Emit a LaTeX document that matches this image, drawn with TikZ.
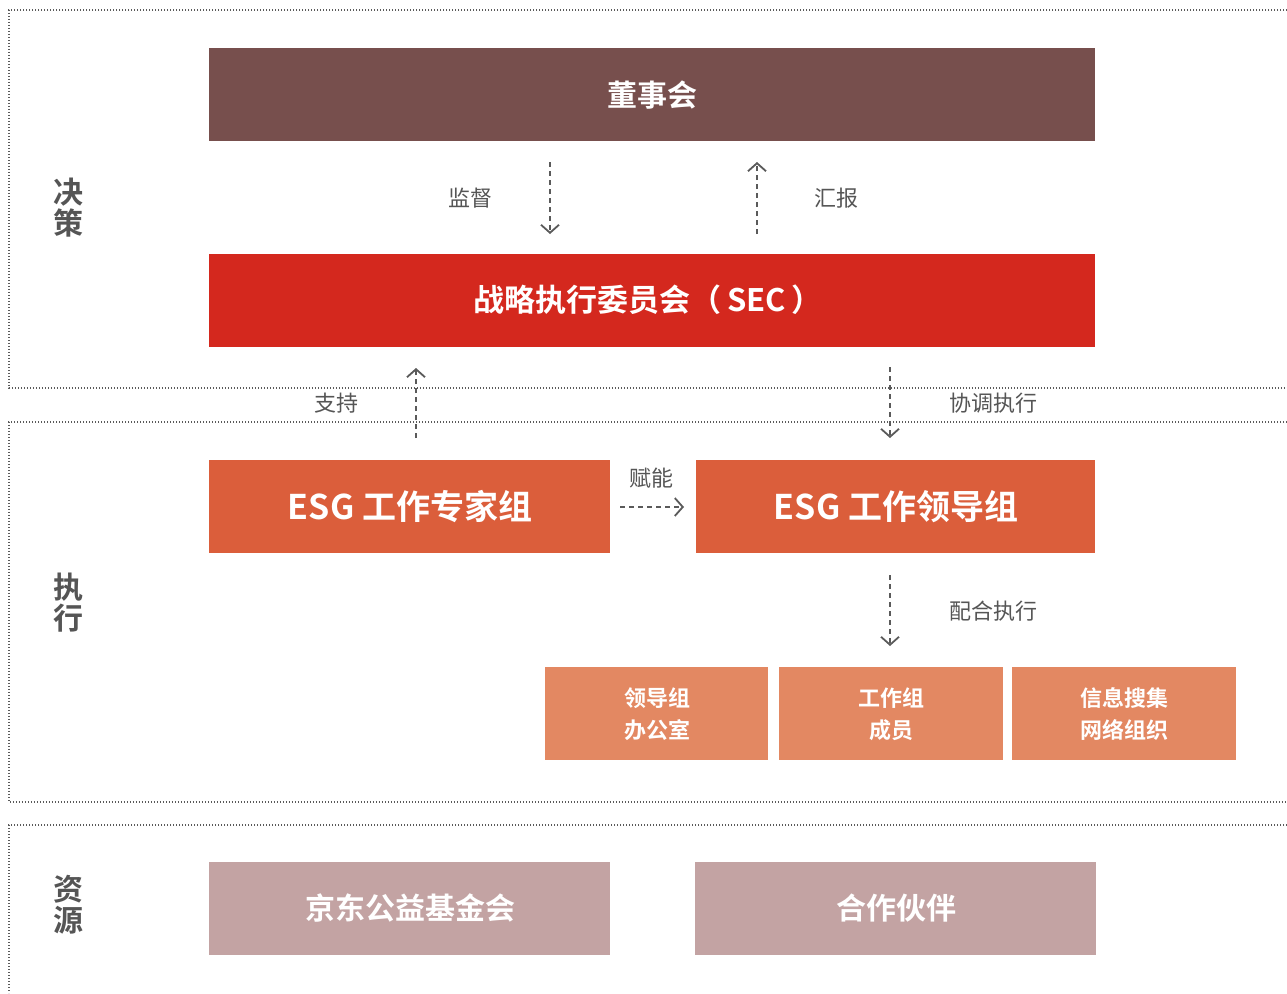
\documentclass[tikz,border=0pt]{standalone}
\usepackage{fontspec}
\setmainfont{Noto Sans CJK SC}
\newfontfamily\cjkb{Noto Sans CJK SC Bold}
\usetikzlibrary{arrows.meta}
\definecolor{cboard}{HTML}{774F4D}
\definecolor{csec}{HTML}{D4281E}
\definecolor{cesg}{HTML}{DB5E3B}
\definecolor{csmall}{HTML}{E38862}
\definecolor{cres}{HTML}{C3A3A3}
\definecolor{cgray}{HTML}{555555}
\definecolor{cline}{HTML}{5A5A5A}
\tikzset{
  x=1pt, y=-1pt,
  boxbig/.style={draw=none, inner sep=0pt, text=white, font=\cjkb\fontsize{30}{34}\selectfont},
  sectframe/.style={draw=cline, line width=1.3pt, dash pattern=on 1.3pt off 1.7pt},
  flow/.style={draw=cline, line width=1.8pt, dash pattern=on 5pt off 4pt, -{Straight Barb[length=8pt,width=18pt,line width=1.8pt]}},
  lbl/.style={text=cgray, font=\fontsize{22}{26}\selectfont, inner sep=0pt},
  side/.style={text=cgray, font=\cjkb\fontsize{30}{31}\selectfont, align=center, inner sep=0pt},
}
\begin{document}
\begin{tikzpicture}
\useasboundingbox (0,0) rectangle (1287,993);
% section frames
\draw[sectframe] (1287,10) -- (9,10) -- (9,388) -- (1287,388);
\draw[sectframe] (1287,422) -- (9,422) -- (9,802) -- (1287,802);
\draw[sectframe] (1287,825) -- (9,825) -- (9,993);
% side labels
\node[side] (sdec) at (68,208) {决\\策};
\node[side] (sexe) at (68,603) {执\\行};
\node[side] (sres) at (68,905) {资\\源};
% boxes
\fill[cboard] (209,48) rectangle (1095,141);
\node[boxbig] (board) at (652,95) {董事会};
\fill[csec] (209,254) rectangle (1095,347);
\node[boxbig, font=\cjkb\fontsize{31}{34}\selectfont] (sec) at (648,300) {战略执行委员会（\,SEC\,）};
\fill[cesg] (209,460) rectangle (610,553);
\node[boxbig, font=\cjkb\fontsize{34}{38}\selectfont] (exp) at (410,507) {ESG 工作专家组};
\fill[cesg] (696,460) rectangle (1095,553);
\node[boxbig, font=\cjkb\fontsize{34}{38}\selectfont] (lead) at (896,507) {ESG 工作领导组};
\fill[csmall] (545,667) rectangle (768,760);
\node[boxbig, font=\cjkb\fontsize{22}{32}\selectfont, align=center] (off) at (657,714) {领导组\\办公室};
\fill[csmall] (779,667) rectangle (1003,760);
\node[boxbig, font=\cjkb\fontsize{22}{32}\selectfont, align=center] (mem) at (891,714) {工作组\\成员};
\fill[csmall] (1012,667) rectangle (1236,760);
\node[boxbig, font=\cjkb\fontsize{22}{32}\selectfont, align=center] (net) at (1124,714) {信息搜集\\网络组织};
\fill[cres] (209,862) rectangle (610,955);
\node[boxbig] (jd) at (410,908) {京东公益基金会};
\fill[cres] (695,862) rectangle (1096,955);
\node[boxbig] (part) at (896,908) {合作伙伴};
% arrow end points
\coordinate (a1s) at (550,162); \coordinate (a1e) at (550,234);
\coordinate (a2s) at (757,234); \coordinate (a2e) at (757,162);
\coordinate (a3s) at (416,438); \coordinate (a3e) at (416,368);
\coordinate (a4s) at (890,367); \coordinate (a4e) at (890,438);
\coordinate (a5s) at (620,507); \coordinate (a5e) at (684,507);
\coordinate (a6s) at (890,575); \coordinate (a6e) at (890,646);
\draw[flow] (a1s) -- (a1e);
\draw[flow] (a2s) -- (a2e);
\draw[flow] (a3s) -- (a3e);
\draw[flow] (a4s) -- (a4e);
\draw[flow] (a5s) -- (a5e);
\draw[flow] (a6s) -- (a6e);
% labels
\node[lbl] (l1) at (470,198) {监督};
\node[lbl] (l2) at (836,198) {汇报};
\node[lbl] (l3) at (336,403) {支持};
\node[lbl] (l4) at (993,403) {协调执行};
\node[lbl] (l5) at (651,478) {赋能};
\node[lbl] (l6) at (993,611) {配合执行};
\end{tikzpicture}
\end{document}
